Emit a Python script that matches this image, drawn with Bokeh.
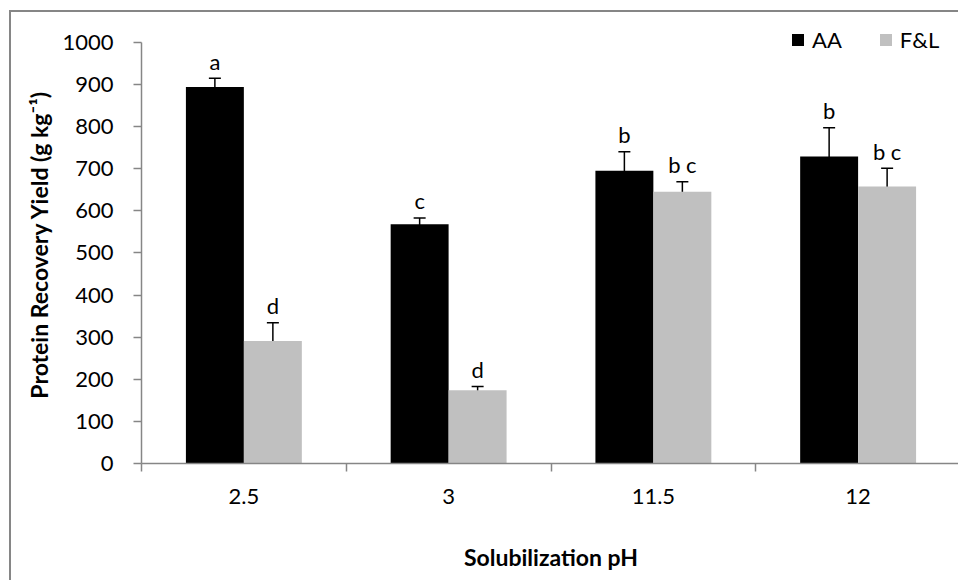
from bokeh.plotting import figure
from bokeh.models import (Range1d, LinearAxis, FixedTicker,
                          Whisker, TeeHead, Legend, LegendItem, ColumnDataSource)
from bokeh.transform import dodge
from bokeh.core.properties import value
from bokeh.embed import file_html
from bokeh.resources import INLINE

# ---- data ----
categories = ["2.5", "3", "11.5", "12"]
aa_values = [894, 568, 695, 729]
aa_errors = [21, 15, 45, 68]
fl_values = [291, 174, 645, 658]
fl_errors = [43, 9, 24, 43]
aa_letters = ["a", "c", "b", "b"]
fl_letters = ["d", "d", "b c", "b c"]
series_names = ["AA", "F&L"]
y_ticks = list(range(0, 1001, 100))
y_axis_max = 1000

FONT = "Lato"
GRAY = "#868686"
TICK_FS = "22px"

n = len(categories)
centers = [i + 0.5 for i in range(n)]

p = figure(width=949, height=570,
           x_range=Range1d(0, n),
           y_range=Range1d(0, 1040),
           output_backend="svg", toolbar_location=None,
           x_axis_location=None,
           min_border_left=130, min_border_top=13, min_border_bottom=119, min_border_right=0)
p.styles = {"margin-left": "9px", "margin-top": "10px",
            "border-left": "2px solid #868686", "border-top": "2px solid #868686"}
p.outline_line_color = None
p.grid.grid_line_color = None
p.background_fill_color = "white"
p.border_fill_color = "white"

# y axis
ya = p.yaxis[0]
ya.ticker = FixedTicker(ticks=y_ticks)
ya.bounds = (0, y_axis_max)
ya.axis_line_color = GRAY
ya.axis_line_width = 1.5
ya.major_tick_line_color = GRAY
ya.major_tick_line_width = 1.5
ya.major_tick_out = 8
ya.major_tick_in = 0
ya.minor_tick_line_color = None
ya.major_label_text_font = FONT
ya.major_label_text_font_size = TICK_FS
ya.major_label_text_color = "black"
ya.major_label_standoff = 20
ya.axis_label = "Protein Recovery Yield (g kg\u207b\u00b9)"
ya.axis_label_text_font = FONT
ya.axis_label_text_font_style = "bold"
ya.axis_label_text_font_size = "23px"
ya.axis_label_text_color = "black"
ya.axis_label_standoff = 6

# x axis: boundary ticks (line + ticks, no labels)
tick_axis = LinearAxis(ticker=FixedTicker(ticks=list(range(n + 1))),
                       axis_line_color=GRAY, axis_line_width=1.5,
                       major_tick_line_color=GRAY, major_tick_line_width=1.5,
                       major_tick_out=8, major_tick_in=0, minor_tick_line_color=None,
                       major_label_overrides={i: "" for i in range(n + 1)},
                       major_label_text_font_size="1px", major_label_standoff=0)
p.add_layout(tick_axis, "below")

# x axis: category labels at centers
label_axis = LinearAxis(ticker=FixedTicker(ticks=centers),
                        major_label_overrides={c: lab for c, lab in zip(centers, categories)},
                        axis_line_color=None, major_tick_line_color=None,
                        minor_tick_line_color=None,
                        major_tick_out=0, major_tick_in=0,
                        major_label_text_font=FONT, major_label_text_font_size=TICK_FS,
                        major_label_text_color="black", major_label_standoff=17,
                        axis_label="Solubilization pH", axis_label_text_font=FONT,
                        axis_label_text_font_style="bold", axis_label_text_font_size="23px",
                        axis_label_text_color="black", axis_label_standoff=36)
p.add_layout(label_axis, "below")

OFF = 0.1416
BW = 0.283
renderers = []
for name, vals, errs, letters, color, off in [
        (series_names[0], aa_values, aa_errors, aa_letters, "black", -OFF),
        (series_names[1], fl_values, fl_errors, fl_letters, "#C0C0C0", OFF)]:
    src = ColumnDataSource(dict(x=centers, val=vals,
                                up=[v + e for v, e in zip(vals, errs)],
                                lo=[v - e for v, e in zip(vals, errs)],
                                letter=letters))
    r = p.vbar(x=dodge("x", off), top="val", width=BW, source=src,
               fill_color=color, line_color=None)
    renderers.append((name, r))
    w = Whisker(base=dodge("x", off), upper="up", lower="lo", source=src,
                line_color="black", line_width=1.5,
                upper_head=TeeHead(size=12, line_color="black", line_width=1.5),
                lower_head=TeeHead(size=12, line_color="black", line_width=1.5))
    p.add_layout(w)
    p.text(x=dodge("x", off), y="up", text="letter", source=src,
           text_align="center", text_baseline="alphabetic", y_offset=-17,
           text_font=value(FONT), text_font_size=TICK_FS, text_color="black")

legend = Legend(items=[LegendItem(label=nm, renderers=[r]) for nm, r in renderers],
                orientation="horizontal", location=(649, 410),
                background_fill_alpha=0, border_line_color=None,
                glyph_width=15, glyph_height=15, label_standoff=7, spacing=36,
                padding=0, margin=0,
                label_text_font=FONT, label_text_font_size=TICK_FS, label_text_color="black")
p.add_layout(legend, "center")

open("out.html", "w").write(file_html(p, INLINE))
